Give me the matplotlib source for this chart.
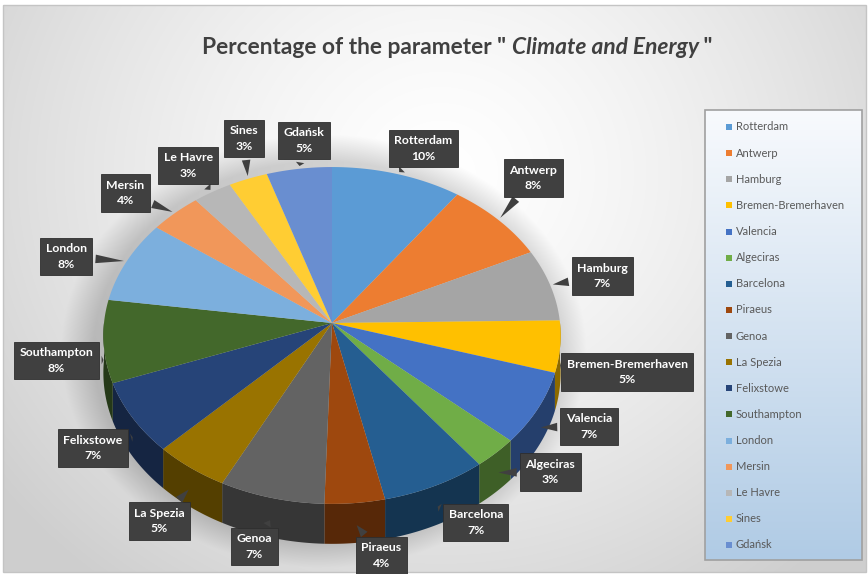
import numpy as np
import matplotlib
matplotlib.use("Agg")
import matplotlib.pyplot as plt
from matplotlib.patches import Polygon, Rectangle
from matplotlib.colors import to_rgb

# ---- data ----
ports = ["Rotterdam", "Antwerp", "Hamburg", "Bremen-Bremerhaven", "Valencia",
         "Algeciras", "Barcelona", "Piraeus", "Genoa", "La Spezia", "Felixstowe",
         "Southampton", "London", "Mersin", "Le Havre", "Sines", "Gdańsk"]
shares = [10, 8, 7, 5, 7, 3, 7, 4, 7, 5, 7, 8, 8, 4, 3, 3, 5]
colors = ["#5B9BD5", "#ED7D31", "#A5A5A5", "#FFC000", "#4472C4", "#70AD47",
          "#255E91", "#9E480E", "#636363", "#997300", "#264478", "#43682B",
          "#7CAFDD", "#F1975A", "#B7B7B7", "#FFCD33", "#698ED0"]

# hand nudges (px) for the callout boxes so they don't collide
label_nudge = [(10, 11), (1, -21), (13, -2), (20, -2), (8, -23), (19, -33),
               (17, -25), (21, -15), (-3, -17), (0, -3), (2, -13), (0, -7),
               (-22, 7), (-17, 3), (3, 3), (16, -6), (13, 11)]

plt.rcParams['font.family'] = ['Lato', 'DejaVu Sans']

W, H = 868, 574
fig = plt.figure(figsize=(W / 100, H / 100), dpi=100)
ax = fig.add_axes([0, 0, 1, 1])
ax.set_xlim(0, W)
ax.set_ylim(H, 0)
ax.axis("off")

# ---- background: soft radial gradient + pie shadow ----
yy, xx = np.mgrid[0:H, 0:W]
d = np.hypot((xx - 440) / 560, (yy - 170) / 520)
bg = 1 - 0.19 * np.clip(d, 0, 1) ** 1.4
sd = np.hypot((xx - 322) / 236, (yy - 350) / 196)
bg -= 0.16 * np.clip((1.12 - sd) / 0.14, 0, 1)
img = np.dstack([bg, bg, bg])
ax.imshow(img, extent=(3, W - 2, H - 2, 5), zorder=0, aspect="auto")
ax.add_patch(Rectangle((3, 5), W - 5, H - 7, fill=False, ec="#c4c4c4", lw=1, zorder=1))

# ---- tilted pie geometry ----
cx, cy = 332, 323
rx, ry = 228, 167.5
k = 0.074          # perspective strength
depth = 37


def proj(u, v):
    s = 1.0 / (1.0 + k * v)
    return cx + rx * u * s, cy - ry * v * s, s


def darker(c, f=0.5):
    r, g, b = to_rgb(c)
    return (r * f, g * f, b * f)


total = float(sum(shares))
bounds = np.concatenate([[0], np.cumsum(shares)]) / total * 2 * np.pi

# side walls (front half only)
for i, col in enumerate(colors):
    a0, a1 = bounds[i], bounds[i + 1]
    lo, hi = max(a0, np.pi / 2), min(a1, 3 * np.pi / 2)
    if hi <= lo:
        continue
    th = np.linspace(lo, hi, 60)
    top = [proj(np.sin(t), np.cos(t)) for t in th]
    upper = [(x, y) for x, y, s in top]
    lower = [(x, y + depth * s) for x, y, s in top][::-1]
    ax.add_patch(Polygon(upper + lower, closed=True, fc=darker(col, 0.55),
                         ec="none", zorder=2))

# top faces
for i, col in enumerate(colors):
    th = np.linspace(bounds[i], bounds[i + 1], 80)
    pts = [(cx, cy)] + [proj(np.sin(t), np.cos(t))[:2] for t in th]
    ax.add_patch(Polygon(pts, closed=True, fc=col, ec="none", zorder=3))

# ---- data label callouts ----
for i, name in enumerate(ports):
    tm = 0.5 * (bounds[i] + bounds[i + 1])
    u, v = np.sin(tm), np.cos(tm)
    x, y, s = proj(u, v)
    if v < 0:
        y += depth * s * 0.5
    dx, dy = x - cx, y - cy
    n = np.hypot(dx, dy)
    off = 48 if v < 0 else 40
    lx = x + dx / n * off + label_nudge[i][0]
    ly = y + dy / n * off + label_nudge[i][1]
    pct = round(shares[i] / total * 100)
    ax.annotate(f"{name}\n{pct}%", xy=(x, y), xytext=(lx, ly),
                ha="center", va="center", fontsize=8.8, fontweight="bold",
                color="white", linespacing=1.5, zorder=6,
                bbox=dict(boxstyle="square,pad=0.45", fc="#404040", ec="#2e2e2e", lw=0.6),
                arrowprops=dict(arrowstyle="wedge,tail_width=0.7,shrink_factor=0.5",
                                fc="#404040", ec="none"))

# ---- title ----
tsize = 16.4
t1 = ax.text(202, 47, 'Percentage of the parameter " ', fontsize=tsize,
             fontweight="bold", color="#404040", ha="left", va="center", zorder=7)
t2 = ax.annotate("Climate and Energy", xy=(1, 0), xycoords=t1, va="bottom",
                 fontsize=tsize, fontweight="bold", fontstyle="italic",
                 color="#404040", zorder=7)
ax.annotate(' "', xy=(1, 0), xycoords=t2, va="bottom", fontsize=tsize,
            fontweight="bold", color="#404040", zorder=7)

# ---- legend with gradient frame ----
lx0, ly0, lw, lh = 705, 110, 157, 450
grad = np.linspace(0, 1, 200)[:, None]
top_c = np.array(to_rgb("#f8fafd"))
bot_c = np.array(to_rgb("#b0cbe5"))
gimg = top_c[None, None, :] * (1 - grad[..., None]) + bot_c[None, None, :] * grad[..., None]
ax.imshow(gimg, extent=(lx0, lx0 + lw, ly0 + lh, ly0), aspect="auto", zorder=4)
ax.add_patch(Rectangle((lx0, ly0), lw, lh, fill=False, ec="#a0a0a0", lw=1.2, zorder=5))
step = (lh - 32) / (len(ports) - 1)
for i, name in enumerate(ports):
    yk = ly0 + 17 + i * step
    ax.add_patch(Rectangle((726, yk - 3), 6, 6, fc=colors[i], ec="none", zorder=5))
    ax.text(736, yk, name, fontsize=8, color="#595959", va="center", ha="left", zorder=5)

fig.savefig("out.png", dpi=100)
